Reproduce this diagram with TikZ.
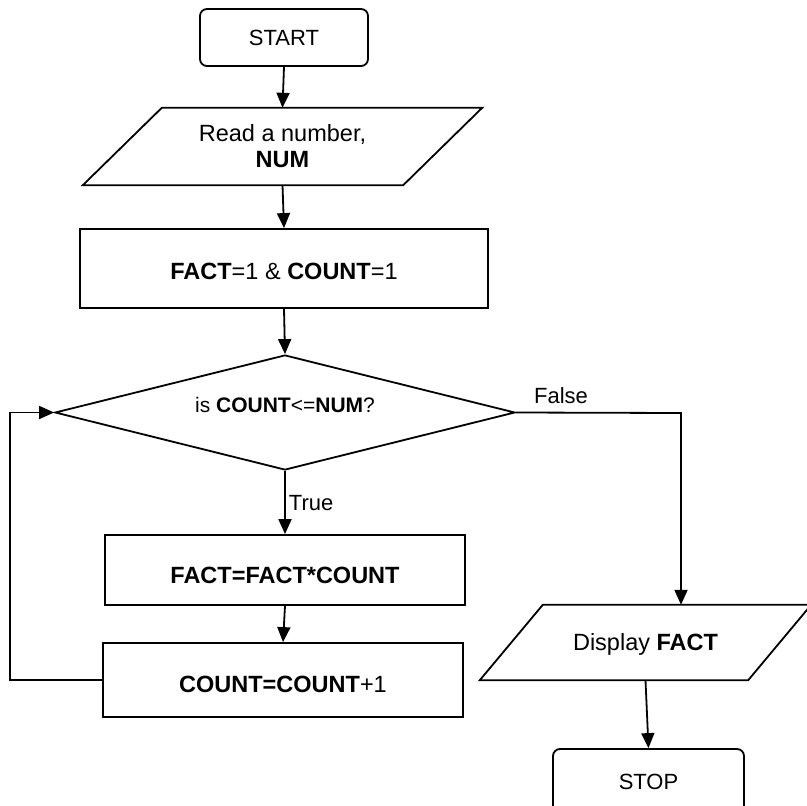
\documentclass[tikz,border=0pt]{standalone}
\usepackage{fontspec}
\setmainfont{Liberation Sans}
\usetikzlibrary{shapes.geometric,arrows.meta}
\begin{document}
\begin{tikzpicture}[x=1pt,y=-1pt,
  every node/.style={font=\fontsize{23.5}{26}\selectfont, inner sep=0pt},
  base/.style={draw, line width=1.8pt},
  terminal/.style={base, rectangle, rounded corners=7pt, text height=15.8pt, text depth=0pt, font=\fontsize{22}{26}\selectfont},
  process/.style={base, rectangle, text height=16.8pt, text depth=0pt},
  iobox/.style={rectangle},
  ioedge/.style={line width=1.8pt, line join=miter},
  decision/.style={base, diamond},
  flow/.style={line width=1.8pt, -{Triangle[length=15pt,width=13pt]}},
  lbl/.style={font=\fontsize{22}{26}\selectfont}
]
\useasboundingbox (0,0) rectangle (807,806);

% shapes
\node[terminal, minimum width=168pt, minimum height=57pt] (start) at (284,37.5) {START};

\node[iobox, minimum width=320pt, minimum height=77pt, align=center] (read) at (282.5,146.5)
      {Read a number,\\[0pt]\textbf{NUM}};
\draw[ioedge] ([xshift=-39.5pt]read.south west) -- ([xshift=39.5pt]read.north west)
  -- ([xshift=39.5pt]read.north east) -- ([xshift=-39.5pt]read.south east) -- cycle;

\node[process, minimum width=408pt, minimum height=79pt, text height=21.8pt] (init) at (284,268.5)
      {\textbf{FACT}=1 \& \textbf{COUNT}=1};
\node[decision, minimum width=460pt, minimum height=115pt, aspect=4] (cond) at (285,412.5) {};
\node[font=\fontsize{21}{24}\selectfont, text height=15pt, text depth=0pt] (condtext)
      at ([yshift=8pt]cond.center) {is \textbf{COUNT}<=\textbf{NUM}?};
\node[process, minimum width=360pt, minimum height=70pt, text height=26.8pt] (body) at (285,570)
      {\textbf{FACT=FACT*COUNT}};
\node[process, minimum width=360pt, minimum height=74pt, text height=24.8pt] (incr) at (283,680)
      {\textbf{COUNT=COUNT}+1};

\node[iobox, minimum width=268pt, minimum height=75pt, text height=16.8pt, text depth=0pt]
      (disp) at (645.5,642.5) {Display \textbf{FACT}};
\draw[ioedge] ([xshift=-31.5pt]disp.south west) -- ([xshift=31.5pt]disp.north west)
  -- ([xshift=31.5pt]disp.north east) -- ([xshift=-31.5pt]disp.south east) -- cycle;

\node[terminal, minimum width=191pt, minimum height=66pt] (stop) at (648.5,782) {STOP};

% connectors
\draw[flow] (start.south) -- (read.north);
\draw[flow] (read.south) -- (init.north);
\draw[flow] (init.south) -- (cond.north);
\draw[flow] (cond.south) -- node[lbl, right, xshift=3pt, text height=15.8pt, text depth=0pt] (truelbl) {True} (body.north);
\draw[flow] (body.south) -- (incr.north);
\coordinate (back) at (10,680);
\draw[flow] (incr.west) -- (back) |- (cond.west);
\coordinate (turn) at (681,413);
\draw[flow] (cond.east) -- (turn) -- (turn |- disp.north);
\node[lbl, anchor=base west] (falselbl) at ([xshift=18pt,yshift=9pt]cond.east) {False};
\draw[flow] (disp.south) -- (stop.north);
\end{tikzpicture}
\end{document}
